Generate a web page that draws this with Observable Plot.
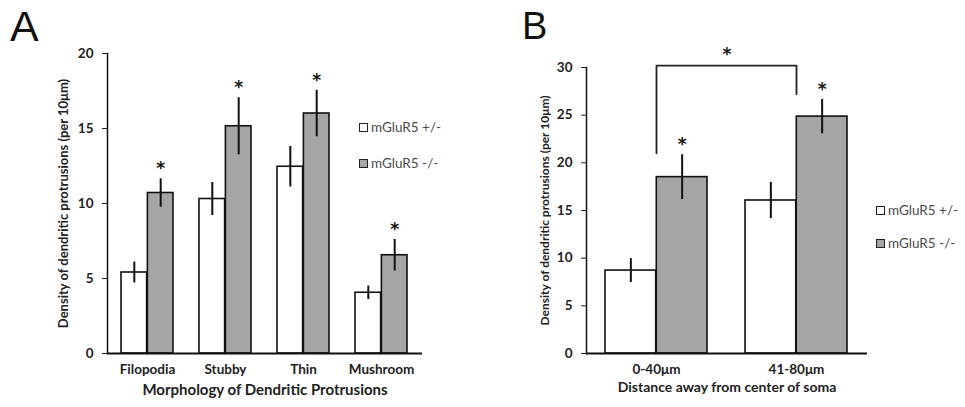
<!DOCTYPE html>
<html><head><meta charset="utf-8">
<script src="https://cdn.jsdelivr.net/npm/d3@7"></script>
<script src="https://cdn.jsdelivr.net/npm/@observablehq/plot@0.6"></script>
<style>
body{margin:0;background:#fff;}
#wrap{position:relative;width:965px;height:407px;overflow:hidden;font-family:Lato,"Open Sans",sans-serif;}
.panel{position:absolute;top:0;}
.letter{position:absolute;font-family:"Liberation Sans",Arial,sans-serif;line-height:1;color:#111;}
.leg{position:absolute;font-size:13.5px;color:#4a4a4a;display:flex;align-items:center;height:14px;white-space:nowrap;}
.sw{width:7px;height:7px;border:1.5px solid #222;margin-right:3px;}
</style></head><body><div id="wrap"></div>
<script>
// ---- data ----
const groups = ["mGluR5 +/-", "mGluR5 -/-"];
const morphCategories = ["Filopodia", "Stubby", "Thin", "Mushroom"];
const morphHet = [5.4, 10.3, 12.45, 4.05];
const morphHetErr = [0.7, 1.1, 1.35, 0.45];
const morphKO = [10.7, 15.15, 16.0, 6.55];
const morphKOErr = [0.95, 1.9, 1.55, 1.05];
const morphTicks = [0, 5, 10, 15, 20];

const distCategories = ["0-40μm", "41-80μm"];
const distHet = [8.7, 16.05];
const distHetErr = [1.25, 1.9];
const distKO = [18.5, 24.85];
const distKOErr = [2.35, 1.8];
const distTicks = [0, 5, 10, 15, 20, 25, 30];
const bracketX = ["0-40μm", "0-40μm", "41-80μm", "41-80μm"];
const bracketY = [21, 30.2, 30.2, 27.2];

const yTitle = "Density of dendritic protrusions (per 10μm)";
const GRAY = "#a5a5a5";
const STAR_FONT = "'DejaVu Sans', sans-serif";

function rows(cats, vals, errs) {
  return cats.map((c, i) => ({cat: c, value: vals[i], err: errs[i]}));
}

function makePanel(o) {
  const n = o.cats.length;
  const inner = o.width - o.ml - o.mr;
  const step = inner / (n - o.pi + 2 * o.po);
  const bw = step * (1 - o.pi);
  const het = rows(o.cats, o.het, o.hetErr);
  const ko = rows(o.cats, o.ko, o.koErr);
  const marks = [
    Plot.barY(het, {x: "cat", y: "value", fill: "white", stroke: "#111", strokeWidth: 1.6, insetRight: bw / 2}),
    Plot.barY(ko, {x: "cat", y: "value", fill: GRAY, stroke: "#111", strokeWidth: 1.6, insetLeft: bw / 2}),
    Plot.ruleX(het, {x: "cat", y1: d => d.value - d.err, y2: d => d.value + d.err, dx: -bw / 4, stroke: "#111", strokeWidth: 2}),
    Plot.ruleX(ko, {x: "cat", y1: d => d.value - d.err, y2: d => d.value + d.err, dx: bw / 4, stroke: "#111", strokeWidth: 2}),
    Plot.text(ko, {x: "cat", y: d => d.value + d.err, text: () => "*", dx: bw / 4, dy: -10, fontSize: 17, fontWeight: "bold", fill: "#111", fontFamily: STAR_FONT}),
    Plot.axisY({ticks: o.ticks, tickSize: 5, tickPadding: 9, fontSize: 13.5, fontWeight: "bold", label: null}),
    Plot.axisX({tickSize: 0, tickPadding: 11, fontSize: 13.5, fontWeight: "bold", label: null}),
    Plot.frame({anchor: "left", stroke: "#111", strokeWidth: 1.5}),
    Plot.ruleY([0], {stroke: "#111", strokeWidth: 2.2}),
    Plot.text([yTitle], {frameAnchor: "left", textAnchor: "middle", rotate: -90, dx: o.yDx, fontSize: o.yFs, fontWeight: "bold", fill: "#222"}),
    Plot.text([o.xTitle], {frameAnchor: "bottom", dy: o.xDy, fontSize: o.xFs, fontWeight: "bold", fill: "#222"}),
    ...(o.extra || [])
  ];
  return Plot.plot({
    width: o.width, height: 407,
    marginLeft: o.ml, marginRight: o.mr, marginTop: o.mt, marginBottom: o.mb,
    style: {fontFamily: "Lato, 'Open Sans', sans-serif", color: "#222", background: "transparent", overflow: "visible"},
    x: {type: "band", domain: o.cats, paddingInner: o.pi, paddingOuter: o.po, label: null},
    y: {domain: [0, o.ticks[o.ticks.length - 1]], label: null},
    marks
  });
}

const wrap = document.getElementById("wrap");

const pA = makePanel({
  cats: morphCategories, het: morphHet, hetErr: morphHetErr, ko: morphKO, koErr: morphKOErr,
  ticks: morphTicks, width: 480, ml: 107, mr: 58, mt: 53, mb: 54, pi: 0.33, po: 0.165,
  xTitle: "Morphology of Dendritic Protrusions", xDy: 41, xFs: 15, yDx: -44, yFs: 13
});
pA.classList.add("panel"); pA.style.left = "0px";
wrap.appendChild(pA);

const pB = makePanel({
  cats: distCategories, het: distHet, hetErr: distHetErr, ko: distKO, koErr: distKOErr,
  ticks: distTicks, width: 485, ml: 106, mr: 98, mt: 67, mb: 54, pi: 0.27, po: 0.135,
  xTitle: "Distance away from center of soma", xDy: 38, xFs: 14, yDx: -41, yFs: 12,
  extra: [
    Plot.line(bracketX.map((x, i) => ({x, y: bracketY[i]})), {x: "x", y: "y", stroke: "#222", strokeWidth: 1.8}),
    Plot.text(["*"], {frameAnchor: "top", dy: -20, fontSize: 17, fontWeight: "bold", fill: "#111", fontFamily: STAR_FONT})
  ]
});
pB.classList.add("panel"); pB.style.left = "480px";
wrap.appendChild(pB);

function letter(t, x, y, fs) {
  const d = document.createElement("div");
  d.className = "letter"; d.textContent = t;
  d.style.left = x + "px"; d.style.top = y + "px"; d.style.fontSize = fs + "px";
  wrap.appendChild(d);
}
letter("A", 10, 5, 43);
letter("B", 522, 7, 38);

function legend(x, y, gap) {
  groups.forEach((g, i) => {
    const d = document.createElement("div");
    d.className = "leg";
    d.style.left = x + "px"; d.style.top = (y + i * gap) + "px";
    const s = document.createElement("span");
    s.className = "sw"; s.style.background = i === 0 ? "white" : GRAY;
    d.appendChild(s);
    d.appendChild(document.createTextNode(g));
    wrap.appendChild(d);
  });
}
legend(359, 120, 36);
legend(876, 203, 33);
</script></body></html>
